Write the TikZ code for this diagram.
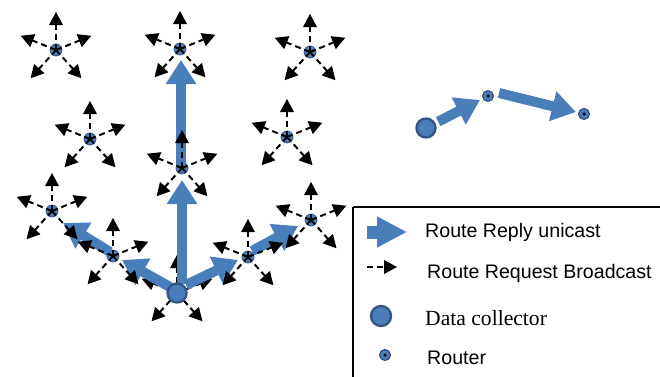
\documentclass[tikz,border=0pt]{standalone}
\usepackage{fontspec}
\setmainfont{Liberation Serif}
\setsansfont{Liberation Sans}
\usetikzlibrary{arrows.meta}
\definecolor{rblue}{RGB}{74,126,187}
\definecolor{rdark}{RGB}{52,86,135}
\tikzset{
  router/.style={circle, fill=rblue, draw=rdark, line width=0.8pt, minimum size=12pt, inner sep=0pt},
  collector/.style={circle, fill=rblue, draw=rdark, line width=2.4pt, minimum size=19pt, inner sep=0pt},
  lrouter/.style={circle, fill=rblue, draw=rdark!80!black, line width=1pt, minimum size=11pt, inner sep=0pt},
  cdot/.style={circle, fill=black, minimum size=3.5pt, inner sep=0pt},
  dline/.style={draw=black, line width=2pt, dash pattern=on 6pt off 4pt},
  tiptri/.style={fill=black},
  burst/.pic={
    \foreach \a in {-90,-158,-22,-228,-312}{
      \draw[dline] (0,0) -- (\a:27);
      \fill[tiptri, rotate={-\a}] (38,0) -- (25,-7) -- (25,7) -- cycle;
    }
  },
  reply/.style={draw=rblue, line width=10pt, -{Triangle[length=24pt,width=29pt]}},
  legtext/.style={anchor=west, inner sep=0pt, font=\sffamily\fontsize{19.6}{21}\selectfont},
  legserif/.style={anchor=west, inner sep=0pt, font=\rmfamily\fontsize{21.6}{23}\selectfont},
}
\begin{document}
\begin{tikzpicture}[x=1pt,y=-1pt]
\useasboundingbox (0,0) rectangle (660,376);
\clip (0,0) rectangle (660,376);
% routers
\node[router] (r11) at (56,50) {};
\node[router] (r12) at (180,49) {};
\node[router] (r13) at (310,52) {};
\node[router] (r21) at (90,139) {};
\node[router] (r22) at (182,168) {};
\node[router] (r23) at (287,137) {};
\node[router] (r31) at (52,211) {};
\node[router] (r32) at (113,256) {};
\node[router] (r34) at (248,257) {};
\node[router] (r35) at (311,220) {};
\coordinate (dcc) at (177,293);
% broadcast from the collector (under the replies)
\pic at (dcc) {burst};
% reply unicast arrows
\coordinate (u1s) at (182,284); \coordinate (u1e) at (182,180);
\coordinate (u2s) at (181,166); \coordinate (u2e) at (181,60);
\coordinate (l1s) at (170,287); \coordinate (l1e) at (122,260);
\coordinate (l2s) at (110,252); \coordinate (l2e) at (63,223);
\coordinate (q1s) at (186,285); \coordinate (q1e) at (238,260);
\coordinate (q2s) at (252,251); \coordinate (q2e) at (298,226);
\draw[reply] (u1s) -- (u1e);
\draw[reply] (u2s) -- (u2e);
\draw[reply] (l1s) -- (l1e);
\draw[reply] (l2s) -- (l2e);
\draw[reply] (q1s) -- (q1e);
\draw[reply] (q2s) -- (q2e);
% broadcast from routers
\foreach \r in {r11,r12,r13,r21,r22,r23,r31,r32,r34,r35}
  \pic at (\r.center) {burst};
\node[collector] (dc) at (dcc) {};
% top right example
\node[collector] (dc2) at (426,128) {};
\node[lrouter] (ta) at (488,96) {};
\node[cdot] at (ta) {};
\node[lrouter] (tb) at (584,114) {};
\node[cdot] at (tb) {};
\coordinate (e1) at (480,100);
\coordinate (s2) at (499,93);
\coordinate (e2) at (576,112);
\draw[reply, shorten <=3pt] (dc2) -- (e1);
\draw[reply] (s2) -- (e2);
% legend
\draw[line width=2.6pt] (353,207) -- (665,207);
\draw[line width=2.6pt] (353,207) -- (353,380);
\draw[draw=rblue, line width=13pt, -{Triangle[length=30pt,width=29pt]}] (367,232) -- (407,232);
\draw[dline] (367,267) -- (387,267);
\fill[tiptri] (397,267) -- (384,260) -- (384,274) -- cycle;
\node[collector, minimum size=20pt] (legdc) at (381,316) {};
\node[lrouter] (legr) at (385,355) {};
\node[cdot] at (legr) {};
\node[legtext] (t1) at (425,232) {Route Reply unicast};
\node[legtext] (t2) at (427,273) {Route Request Broadcast};
\node[legserif] (t3) at (425,318) {Data collector};
\node[legtext] (t4) at (427,358) {Router};
\end{tikzpicture}
\end{document}
